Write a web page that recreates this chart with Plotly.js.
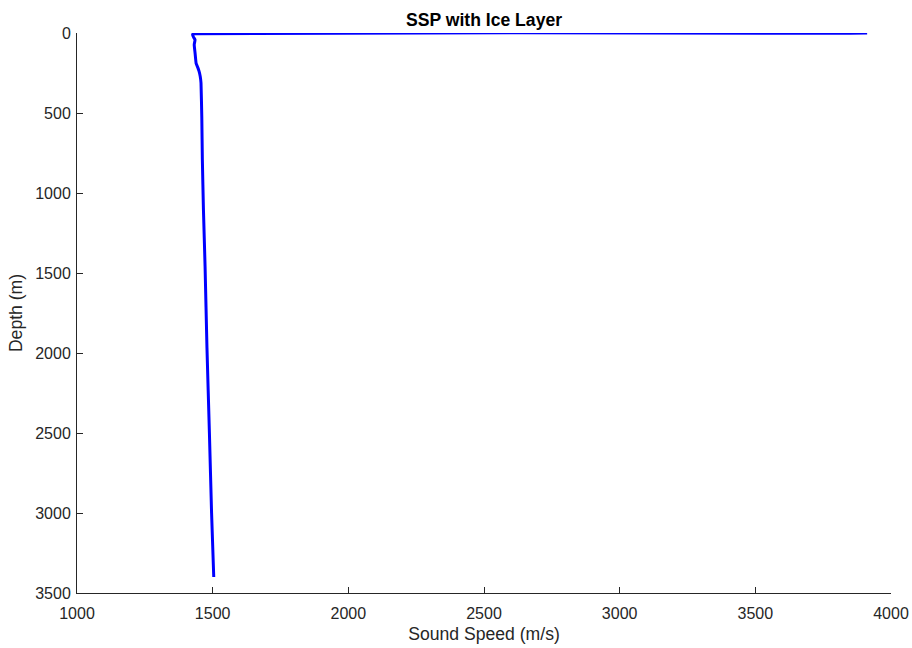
<!DOCTYPE html>
<html>
<head>
<meta charset="utf-8">
<script src="https://cdn.plot.ly/plotly-3.0.1.min.js"></script>
<style>html,body{margin:0;padding:0;background:#fff;}#chart{width:912px;height:648px;}</style>
</head>
<body>
<div id="chart"></div>
<script>
// Sound speed profile with an ice layer at the surface
const depth = [0, 2, 4, 10, 25, 42, 73, 123, 190, 215, 240, 270, 312, 532, 792, 1104, 1458, 1968, 2500, 3000, 3400];
const soundSpeed = [3912, 3850, 1430, 1426, 1429, 1435, 1432, 1435, 1439, 1445, 1450, 1454, 1457, 1460, 1462, 1466, 1472, 1479, 1488, 1496, 1504];
const xTicks = [1000, 1500, 2000, 2500, 3000, 3500, 4000];
const yTicks = [0, 500, 1000, 1500, 2000, 2500, 3000, 3500];

const fam = 'Liberation Sans, Arial, sans-serif';
const tickFont = {family: fam, size: 16, color: '#262626'};
const labelFont = {family: fam, size: 17.6, color: '#262626'};

const trace = {
  x: soundSpeed,
  y: depth,
  type: 'scatter',
  mode: 'lines',
  line: {color: '#0000ff', width: 3, shape: 'spline', smoothing: 0.3},
  hoverinfo: 'x+y'
};

const axisCommon = {
  showline: true,
  linecolor: '#262626',
  linewidth: 1,
  ticks: 'inside',
  ticklen: 6,
  tickwidth: 1,
  tickcolor: '#262626',
  showgrid: false,
  zeroline: false,
  mirror: false,
  tickfont: tickFont
};

const layout = {
  width: 912,
  height: 648,
  margin: {l: 77, r: 21, t: 33, b: 55},
  paper_bgcolor: '#ffffff',
  plot_bgcolor: '#ffffff',
  font: tickFont,
  showlegend: false,
  title: {
    text: '<b>SSP with Ice Layer</b>',
    font: {family: fam, size: 17.6, color: '#000000'},
    x: 0.5, xref: 'paper', xanchor: 'center',
    y: 1 - 20 / 648, yref: 'container', yanchor: 'middle'
  },
  xaxis: Object.assign({}, axisCommon, {
    range: [1000, 4000],
    tickvals: xTicks,
    ticktext: xTicks.map(String),
    ticklabelstandoff: 6,
    title: {text: 'Sound Speed (m/s)', font: labelFont, standoff: 6}
  }),
  yaxis: Object.assign({}, axisCommon, {
    range: [3500, 0],
    tickvals: yTicks,
    ticktext: yTicks.map(String),
    ticklabelstandoff: 2,
    title: {text: 'Depth (m)', font: labelFont, standoff: 8}
  })
};

Plotly.newPlot('chart', [trace], layout, {displayModeBar: false});
</script>
</body>
</html>
